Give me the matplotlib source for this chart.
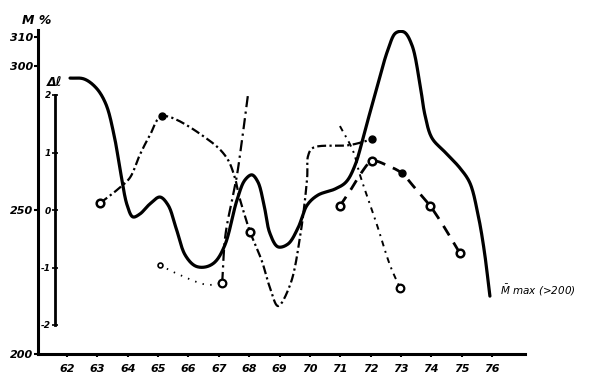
import numpy as np
import matplotlib
matplotlib.use("Agg")
import matplotlib.pyplot as plt

# ---------------- data ----------------
years = list(range(62, 77))
m_ticks = [200, 250, 300, 310]
l_ticks = [-2, -1, 0, 1, 2]

# solid curve: M max (>200), in M %
mmax_year = [62.10, 62.56, 62.96, 63.28, 63.55, 63.78, 63.98, 64.17, 64.40, 64.73,
             65.06, 65.33, 65.59, 65.89, 66.22, 66.55, 66.87, 67.20, 67.60, 67.86,
             68.09, 68.29, 68.49, 68.68, 68.95, 69.28, 69.61, 69.91, 70.27, 70.83,
             71.19, 71.49, 71.82, 72.14, 72.57, 72.83, 73.10, 73.36, 73.63, 73.79,
             74.02, 74.45, 74.94, 75.27, 75.54, 75.74, 75.93]
mmax_val = [295.8, 295.5, 292.4, 286.8, 276.0, 262.2, 251.7, 247.6, 248.6, 252.1,
            254.5, 251.7, 243.8, 234.4, 230.6, 230.2, 231.9, 237.8, 253.5, 260.4,
            262.2, 259.7, 251.7, 242.0, 237.2, 238.2, 243.8, 251.7, 255.2, 257.3,
            259.7, 265.6, 277.8, 289.9, 305.6, 311.5, 311.8, 307.3, 293.4, 283.0,
            275.0, 270.1, 264.6, 259.4, 248.3, 236.1, 220.1]

# dash-dot series A (Δl)
a_year = [63.09, 63.65, 64.07, 64.40, 64.73, 65.13, 66.71, 67.27, 67.53, 67.66,
          67.80, 68.03, 68.42, 68.69, 68.95, 69.35, 69.67, 69.91, 69.94, 70.10,
          71.32, 72.05]
a_val = [0.12, 0.35, 0.56, 0.96, 1.30, 1.63, 1.20, 0.90, 0.56, 0.26,
         0.0, -0.38, -0.89, -1.36, -1.67, -1.30, -0.49, 0.56, 0.94, 1.08,
         1.13, 1.23]
a_open = [63.09, 68.03]
a_open_val = [0.12, -0.38]
a_fill = [65.13, 72.05]
a_fill_val = [1.63, 1.23]

# steep dash-dot series B
b_year = [67.11, 67.22, 67.47, 67.60, 67.76, 67.96]
b_val = [-1.27, -0.43, 0.26, 0.61, 1.20, 2.0]

# dotted series C
c_year = [65.06, 65.72, 66.61, 67.11]
c_val = [-0.96, -1.13, -1.30, -1.27]

# sparse dash-dot series D
d_year = [70.99, 71.42, 71.65, 72.21, 72.64, 72.97]
d_val = [1.46, 1.03, 0.61, -0.26, -0.96, -1.36]

# dashed series E
e_year = [70.99, 71.32, 71.65, 72.05, 72.57, 73.03, 73.40, 73.96, 74.38, 74.94]
e_val = [0.07, 0.33, 0.61, 0.85, 0.77, 0.64, 0.42, 0.07, -0.26, -0.75]
e_open = [70.99, 72.05, 73.96, 74.94]
e_open_val = [0.07, 0.85, 0.07, -0.75]
e_fill = [73.03]
e_fill_val = [0.64]


def smooth(x, y, sx=1.0, sy=1.0, n=20, alpha=0.5):
    """Centripetal Catmull-Rom spline through the points (drawing helper)."""
    p = np.column_stack([np.asarray(x) * sx, np.asarray(y) * sy]).astype(float)
    p = np.vstack([2 * p[0] - p[1], p, 2 * p[-1] - p[-2]])
    out = []
    for i in range(1, len(p) - 2):
        p0, p1, p2, p3 = p[i - 1], p[i], p[i + 1], p[i + 2]
        t0 = 0.0
        t1 = t0 + max(np.linalg.norm(p1 - p0), 1e-6) ** alpha
        t2 = t1 + max(np.linalg.norm(p2 - p1), 1e-6) ** alpha
        t3 = t2 + max(np.linalg.norm(p3 - p2), 1e-6) ** alpha
        t = np.linspace(t1, t2, n, endpoint=False)[:, None]
        a1 = (t1 - t) / (t1 - t0) * p0 + (t - t0) / (t1 - t0) * p1
        a2 = (t2 - t) / (t2 - t1) * p1 + (t - t1) / (t2 - t1) * p2
        a3 = (t3 - t) / (t3 - t2) * p2 + (t - t2) / (t3 - t2) * p3
        b1 = (t2 - t) / (t2 - t0) * a1 + (t - t0) / (t2 - t0) * a2
        b2 = (t3 - t) / (t3 - t1) * a2 + (t - t1) / (t3 - t1) * a3
        c = (t2 - t) / (t2 - t1) * b1 + (t - t1) / (t2 - t1) * b2
        out.append(c)
    out.append(p[-2][None, :])
    out = np.vstack(out)
    return out[:, 0] / sx, out[:, 1] / sy


# ---------------- figure ----------------
W, H = 599, 378
fig = plt.figure(figsize=(W / 100, H / 100), dpi=100)
x0, x1 = 38, 525
y0, y1 = 354, 30
ax = fig.add_axes([x0 / W, (H - y0) / H, (x1 - x0) / W, (y0 - y1) / H])

px_per_year = 30.36
px_per_m = 2.88
px_per_l = 57.5
xlo = 62 + (x0 - 67) / px_per_year
xhi = 62 + (x1 - 67) / px_per_year
ylo = 200
yhi = 200 + (y0 - y1) / px_per_m
ax.set_xlim(xlo, xhi)
ax.set_ylim(ylo, yhi)

k = px_per_l / px_per_m
ax2 = ax.twinx()
ax2.set_ylim((ylo - 250) / k, (yhi - 250) / k)

for s in ["top", "right"]:
    ax.spines[s].set_visible(False)
for s in ["top", "right", "bottom"]:
    ax2.spines[s].set_visible(False)
ax.spines["left"].set_linewidth(2.2)
ax.spines["bottom"].set_linewidth(2.2)

tfont = dict(fontsize=8, fontweight="bold", fontstyle="italic", family="DejaVu Sans")
ax.set_xticks(years)
ax.set_xticklabels([str(y) for y in years], **tfont)
ax.set_yticks(m_ticks)
ax.set_yticklabels([str(v) for v in m_ticks], **tfont)
ax.tick_params(axis="x", length=2.5, width=1.5, pad=5)
ax.tick_params(axis="y", length=3, width=1.5, pad=0.5)

# second (Δl) axis
ax2.spines["left"].set_visible(True)
ax2.spines["left"].set_position(("axes", (55 - x0) / (x1 - x0)))
ax2.spines["left"].set_bounds(-2, 2)
ax2.spines["left"].set_linewidth(2.0)
ax2.yaxis.set_ticks_position("left")
ax2.yaxis.set_label_position("left")
ax2.set_yticks(l_ticks)
ax2.set_yticklabels([str(v) for v in l_ticks], fontsize=6.5, fontweight="bold",
                    fontstyle="italic")
ax2.tick_params(axis="y", direction="inout", length=4, width=1.2, pad=1)

sxm, sym = px_per_year, px_per_m
sxl, syl = px_per_year, px_per_l

# ---------------- curves ----------------
cx_, cy_ = smooth(mmax_year, mmax_val, sxm, sym)
ax.plot(cx_, cy_, color="black", lw=2.3, solid_capstyle="round", zorder=3)

ax_, ay_ = smooth(a_year, a_val, sxl, syl)
ax2.plot(ax_, ay_, color="black", lw=1.6, dashes=[4, 1.5, 1, 1.5], zorder=3)
ax2.plot(a_open, a_open_val, "o", ms=5.5, mfc="white", mec="black", mew=1.8, zorder=4)
ax2.plot(a_fill, a_fill_val, "o", ms=5, mfc="black", mec="black", zorder=4)

bx, by = smooth(b_year, b_val, sxl, syl)
ax2.plot(bx, by, color="black", lw=1.6, dashes=[5, 2, 1, 2], zorder=3)

cx, cy = smooth(c_year, c_val, sxl, syl)
ax2.plot(cx, cy, color="black", lw=1.3, dashes=[0.8, 3.5], zorder=3)
ax2.plot(c_year[0], c_val[0], "o", ms=3.5, mfc="white", mec="black", mew=1.2, zorder=4)
ax2.plot(c_year[-1], c_val[-1], "o", ms=5.5, mfc="white", mec="black", mew=1.6, zorder=4)

dx, dy = smooth(d_year, d_val, sxl, syl)
ax2.plot(dx, dy, color="black", lw=1.4, dashes=[3, 2.5, 1, 2.5], zorder=3)
ax2.plot(d_year[-1], d_val[-1], "o", ms=5.5, mfc="white", mec="black", mew=1.6, zorder=4)

ex, ey = smooth(e_year, e_val, sxl, syl)
ax2.plot(ex, ey, color="black", lw=2.0, dashes=[4, 3], zorder=3)
ax2.plot(e_open, e_open_val, "o", ms=5.5, mfc="white", mec="black", mew=1.8, zorder=4)
ax2.plot(e_fill, e_fill_val, "o", ms=5, mfc="black", mec="black", zorder=4)

# ---------------- labels ----------------
fig.text(37 / W, 1 - 21 / H, "M %", fontsize=9, fontweight="bold", fontstyle="italic",
         ha="center", va="center")
fig.text(47 / W, 1 - 82 / H, "Δℓ", fontsize=9, fontweight="bold", fontstyle="italic",
         ha="left", va="center")
ax.text(500 / W, 1 - 290 / H, r"$\bar{M}$ max (>200)", transform=fig.transFigure,
        fontsize=7.5, fontstyle="italic", ha="left", va="center")

fig.savefig("out.png", dpi=100)
